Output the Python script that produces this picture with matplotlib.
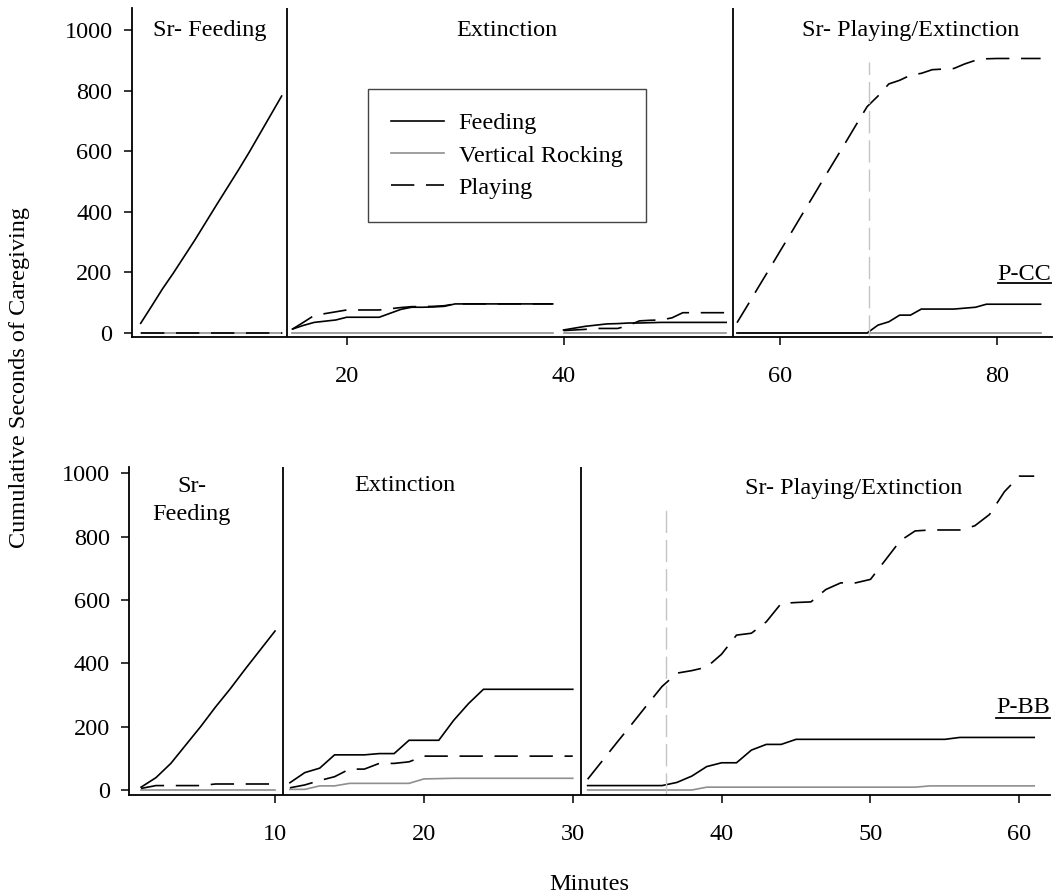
import matplotlib
matplotlib.use("Agg")
import matplotlib.pyplot as plt

plt.rcParams['font.family'] = ['Liberation Serif', 'DejaVu Serif']
plt.rcParams['font.size'] = 17.5

# ---------------- P-CC (top panel) ----------------
cc_p1_min = list(range(1, 15))
cc_p1_feed = [32, 88, 145, 197, 252, 307, 365, 423, 480, 537, 596, 658, 720, 782]
cc_p1_rock = [0] * 14
cc_p1_play = [0] * 14

cc_p2a_min = list(range(15, 40))
cc_p2a_feed = [13, 25, 35, 39, 43, 52, 52, 52, 52, 65, 78, 85, 85, 86, 88, 96,
               96, 96, 96, 96, 96, 96, 96, 96, 96]
cc_p2a_rock = [0] * 25
cc_p2a_play = [13, 35, 58, 64, 70, 76, 76, 76, 76, 80, 84, 87, 87, 88, 90, 96,
               96, 96, 96, 96, 96, 96, 96, 96, 96]

cc_p2b_min = list(range(40, 56))
cc_p2b_feed = [10, 16, 22, 26, 30, 31, 33, 33, 34, 35, 35, 35, 35, 35, 35, 35]
cc_p2b_rock = [0] * 16
cc_p2b_play = [8, 10, 12, 15, 15, 15, 25, 40, 42, 43, 50, 67, 67, 67, 67, 67]

cc_p3_min = list(range(56, 85))
cc_p3_feed = [0, 0, 0, 0, 0, 0, 0, 0, 0, 0, 0, 0, 0, 26, 37, 59, 59, 79, 79, 79,
              79, 82, 85, 95, 95, 95, 95, 95, 95]
cc_p3_rock = [0] * 29
cc_p3_play = [34, 93, 153, 212, 272, 331, 391, 450, 510, 569, 628, 688, 747,
              782, 822, 834, 851, 857, 869, 871, 873, 888, 900, 905, 906, 906,
              906, 906, 906]

# ---------------- P-BB (bottom panel) ----------------
bb_p1_min = list(range(1, 11))
bb_p1_feed = [9, 39, 84, 142, 200, 262, 320, 382, 442, 502]
bb_p1_rock = [0] * 10
bb_p1_play = [5, 14, 14, 14, 14, 19, 19, 19, 19, 19]

bb_p2_min = list(range(11, 31))
bb_p2_feed = [23, 55, 69, 111, 111, 111, 115, 115, 157, 157, 157, 220, 273, 318,
              318, 318, 318, 318, 318, 318]
bb_p2_rock = [2, 2, 13, 13, 21, 21, 21, 21, 21, 35, 36, 37, 37, 37, 37, 37, 37,
              37, 37, 37]
bb_p2_play = [7, 16, 30, 42, 66, 66, 84, 84, 89, 107, 107, 107, 107, 107, 107,
              107, 107, 107, 107, 107]

bb_p3_min = list(range(31, 62))
bb_p3_feed = [14, 14, 14, 14, 14, 14, 24, 44, 74, 86, 86, 126, 144, 144, 160,
              160, 160, 160, 160, 160, 160, 160, 160, 160, 160, 166, 166, 166,
              166, 166, 166]
bb_p3_rock = [0, 0, 0, 0, 0, 0, 0, 0, 9, 9, 9, 9, 9, 9, 9, 9, 9, 9, 9, 9, 9, 9,
              9, 13, 13, 13, 13, 13, 13, 13, 13]
bb_p3_play = [34, 93, 152, 210, 269, 327, 369, 377, 388, 429, 489, 495, 531, 589,
              592, 594, 633, 654, 654, 665, 726, 787, 818, 821, 821, 821, 834,
              870, 942, 991, 991]

series_labels = ["Feeding", "Vertical Rocking", "Playing"]
y_ticks = [0, 200, 400, 600, 800, 1000]
cc_xticks = [20, 40, 60, 80]
bb_xticks = [10, 20, 30, 40, 50, 60]

cc_phase_lines = [14.52, 55.6]
bb_phase_lines = [10.52, 30.54]
cc_marker = (68.15, 895)
bb_marker = (36.27, 895)

# ---------------- styles ----------------
W, H = 1058, 896
fig = plt.figure(figsize=(W / 100, H / 100), dpi=100)

ax1 = fig.add_axes([132 / W, 1 - 337 / H, 920 / W, 329 / H])
ax2 = fig.add_axes([129.3 / W, 1 - 794.7 / H, 920.7 / W, 328 / H])

FEED = dict(color='black', lw=1.2, solid_joinstyle='miter')
ROCK = dict(color='#8f8f8f', lw=1.2)
PLAY = dict(color='black', lw=1.2, linestyle=(0, (14, 7)))


def draw_segments(ax, segs):
    for mins, feed, rock, play in segs:
        ax.plot(mins, rock, **ROCK)
        ax.plot(mins, feed, **FEED)
        ax.plot(mins, play, **PLAY)


draw_segments(ax1, [(cc_p1_min, cc_p1_feed, cc_p1_rock, cc_p1_play),
                    (cc_p2a_min, cc_p2a_feed, cc_p2a_rock, cc_p2a_play),
                    (cc_p2b_min, cc_p2b_feed, cc_p2b_rock, cc_p2b_play),
                    (cc_p3_min, cc_p3_feed, cc_p3_rock, cc_p3_play)])
draw_segments(ax2, [(bb_p1_min, bb_p1_feed, bb_p1_rock, bb_p1_play),
                    (bb_p2_min, bb_p2_feed, bb_p2_rock, bb_p2_play),
                    (bb_p3_min, bb_p3_feed, bb_p3_rock, bb_p3_play)])

ax1.set_xlim(0.2, 85.05)
ax1.set_ylim(-13.2, 1072.6)
ax2.set_xlim(0.21, 62.06)
ax2.set_ylim(-14.8, 1020.8)

for ax, lines, mk, xt in [(ax1, cc_phase_lines, cc_marker, cc_xticks),
                          (ax2, bb_phase_lines, bb_marker, bb_xticks)]:
    for xv in lines:
        ax.axvline(xv, color='black', lw=1.3)
    ax.plot([mk[0], mk[0]], [ax.get_ylim()[0], mk[1]], color='#c4c4c4',
            lw=1.0, linestyle=(0, (16, 5)))
    ax.spines['top'].set_visible(False)
    ax.spines['right'].set_visible(False)
    for s in ('left', 'bottom'):
        ax.spines[s].set_linewidth(1.3)
    ax.set_yticks(y_ticks)
    ax.set_xticks(xt)
    ax.tick_params(axis='both', direction='out', length=6, width=1.1,
                   labelsize=17.5)
    ax.tick_params(axis='x', pad=15)
    ax.tick_params(axis='y', pad=8)

# phase titles
ax1.text(7.4, 979, "Sr- Feeding", ha='center', va='baseline')
ax1.text(34.8, 979, "Extinction", ha='center', va='baseline')
ax1.text(72.0, 979, "Sr- Playing/Extinction", ha='center', va='baseline')

ax2.text(4.4, 942, "Sr-", ha='center', va='baseline')
ax2.text(4.4, 853, "Feeding", ha='center', va='baseline')
ax2.text(18.7, 945, "Extinction", ha='center', va='baseline')
ax2.text(48.85, 935, "Sr- Playing/Extinction", ha='center', va='baseline')

t_cc = ax1.text(85.0, 175, "P-CC", ha='right', va='baseline')
t_bb = ax2.text(62.06, 242, "P-BB", ha='right', va='baseline')

# legend
handles = [plt.Line2D([], [], **FEED), plt.Line2D([], [], **ROCK),
           plt.Line2D([], [], **PLAY)]
leg = ax1.legend(handles, series_labels, loc='upper left',
                 bbox_to_anchor=(0.256, 0.753), borderaxespad=0,
                 fancybox=False, edgecolor='#444444', framealpha=1,
                 borderpad=0.95, labelspacing=0.42, handlelength=2.2,
                 handletextpad=0.6, fontsize=17.5)
leg.get_frame().set_linewidth(1.0)

fig.text(20 / W, 1 - 377 / H, "Cumulative Seconds of Caregiving",
         rotation=90, ha='center', va='center')
fig.text(588.8 / W, 1 - 890 / H, "Minutes", ha='center', va='baseline')

# underline the participant labels
fig.canvas.draw()
renderer = fig.canvas.get_renderer()
for ax, t, uy in [(ax1, t_cc, 164), (ax2, t_bb, 226)]:
    bb = t.get_window_extent(renderer)
    inv = ax.transData.inverted()
    x0 = inv.transform((bb.x0, 0))[0]
    x1 = inv.transform((bb.x1, 0))[0]
    ax.plot([x0, x1], [uy, uy], color='black', lw=1.3, clip_on=False)

fig.savefig("out.png", dpi=100)
